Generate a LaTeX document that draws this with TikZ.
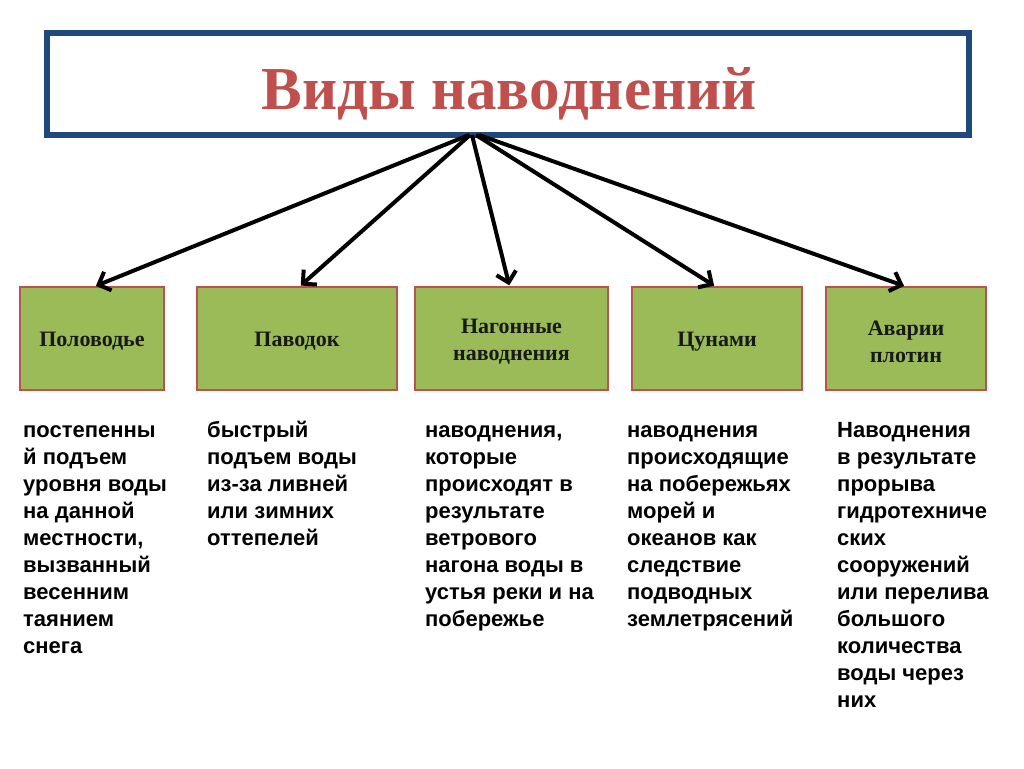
\documentclass[tikz,border=0pt]{standalone}
\usepackage{fontspec}
\setmainfont{Liberation Serif}
\newfontfamily\arialfont{Liberation Sans}
\usetikzlibrary{arrows.meta}
\definecolor{titleblue}{HTML}{1F497D}
\definecolor{titlered}{HTML}{C0504D}
\definecolor{boxgreen}{HTML}{9BBB59}
\definecolor{boxedge}{HTML}{C0504D}
\tikzset{
  kindbox/.style={draw=boxedge, line width=1.5pt, fill=boxgreen, minimum height=103pt, inner sep=0pt},
  kindlbl/.style={align=center, font=\fontsize{22}{27}\selectfont\bfseries, text=black!90, inner sep=0pt},
  desc/.style={anchor=north west, align=left, inner sep=0pt,
    font=\arialfont\fontsize{22}{27}\selectfont\bfseries, text=black},
  arr/.style={line width=4pt, -{Straight Barb[length=10pt,width=20pt,line width=4pt]}, shorten >=1pt}
}
\newcommand{\fl}{\rule{0pt}{17pt}}
\begin{document}
\begin{tikzpicture}[x=1pt,y=-1pt]
\useasboundingbox (0,0) rectangle (1024,768);
\node[draw=titleblue, line width=6pt, minimum width=922pt, minimum height=102pt, inner sep=0pt]
  (title) at (508,84) {};
\node[anchor=base, text=titlered, font=\fontsize{61}{62}\selectfont\bfseries] (tt) at (509,109) {Виды наводнений};

\node[kindbox, minimum width=144pt] (b1) at (92,338.5) {};
\node[kindbox, minimum width=200pt] (b2) at (297,338.5) {};
\node[kindbox, minimum width=193pt] (b3) at (511.5,338.5) {};
\node[kindbox, minimum width=170pt] (b4) at (717,338.5) {};
\node[kindbox, minimum width=160pt] (b5) at (906,338.5) {};
\node[kindlbl] (l1) at ([yshift=-3pt]b1.center) {Половодье};
\node[kindlbl] (l2) at ([yshift=-3pt]b2.center) {Паводок};
\node[kindlbl] (l3) at ([yshift=-3pt]b3.center) {Нагонные\\наводнения};
\node[kindlbl] (l4) at ([yshift=-3pt]b4.center) {Цунами};
\node[kindlbl] (l5) at ([yshift=-3pt]b5.center) {Аварии\\плотин};

\coordinate (o1) at (469,135);
\coordinate (o2) at (470,135);
\coordinate (o3) at (472,135);
\coordinate (o4) at (476,135);
\coordinate (o5) at (479,135);

\draw[arr] (o1) -- ([xshift=3pt]b1.north);
\draw[arr] (o2) -- ([xshift=3pt]b2.north);
\draw[arr] (o3) -- ([xshift=-2pt]b3.north);
\draw[arr] (o4) -- ([xshift=-2pt]b4.north);
\draw[arr] (o5) -- ([xshift=-1pt]b5.north);

\node[desc] (d1) at (23,420) {\fl постепенны\\й подъем\\уровня воды\\на данной\\местности,\\вызванный\\весенним\\таянием\\снега};
\node[desc] (d2) at (207,420) {\fl быстрый\\подъем воды\\из-за ливней\\или зимних\\оттепелей};
\node[desc] (d3) at (425,420) {\fl наводнения,\\которые\\происходят в\\результате\\ветрового\\нагона воды в\\устья реки и на\\побережье};
\node[desc] (d4) at (627,420) {\fl наводнения\\происходящие\\на побережьях\\морей и\\океанов как\\следствие\\подводных\\землетрясений};
\node[desc] (d5) at (837,420) {\fl Наводнения\\в результате\\прорыва\\гидротехниче\\ских\\сооружений\\или перелива\\большого\\количества\\воды через\\них};
\end{tikzpicture}
\end{document}
